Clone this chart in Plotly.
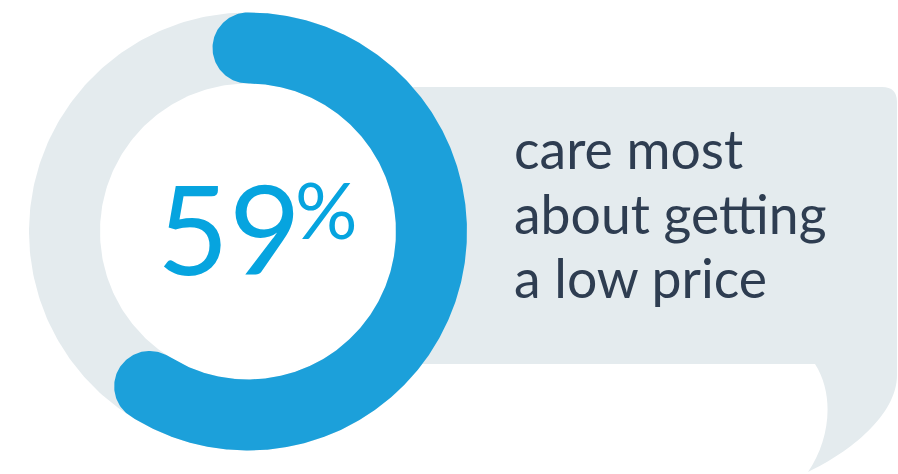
import numpy as np
import plotly.graph_objects as go

# ---- data ----
value = [59]            # percent shown by the blue arc
total = [100]           # full ring
value_label = ["59"]
unit_label = ["%"]
caption_lines = ["care most", "about getting", "a low price"]

# ---- styling / layout constants ----
W, H = 898, 474
CX, CY = 248, 231.5
R_OUT, R_IN = 219, 148
BLUE = "#1ca0da"
BLUE_TEXT = "#06a4df"
GREY = "#e4ebee"
DARK = "#2e3d51"
CAPTION_SIZE = 53.5
CAPTION_TOPS = [114.2, 178.7, 243.2]


def disk(r, n=360):
    t = np.linspace(0, 2 * np.pi, n)
    return CX + r * np.sin(t), CY - r * np.cos(t)


def rounded_arc(frac, n=500, m=80):
    th1 = 2 * np.pi * frac
    rm = (R_OUT + R_IN) / 2
    w = (R_OUT - R_IN) / 2
    th = np.linspace(0, th1, n)
    xs, ys = [], []
    # outer edge
    xs += list(CX + R_OUT * np.sin(th)); ys += list(CY - R_OUT * np.cos(th))
    # end cap
    phi = np.linspace(0, np.pi, m)
    c = (CX + rm * np.sin(th1), CY - rm * np.cos(th1))
    rad = (np.sin(th1), -np.cos(th1)); tan = (np.cos(th1), np.sin(th1))
    xs += list(c[0] + w * (np.cos(phi) * rad[0] + np.sin(phi) * tan[0]))
    ys += list(c[1] + w * (np.cos(phi) * rad[1] + np.sin(phi) * tan[1]))
    # inner edge (back)
    thr = th[::-1]
    xs += list(CX + R_IN * np.sin(thr)); ys += list(CY - R_IN * np.cos(thr))
    # start cap
    c0 = (CX, CY - rm); rad0 = (0.0, -1.0); tan0 = (1.0, 0.0)
    xs += list(c0[0] + w * (-np.cos(phi) * rad0[0] - np.sin(phi) * tan0[0]))
    ys += list(c0[1] + w * (-np.cos(phi) * rad0[1] - np.sin(phi) * tan0[1]))
    return xs, ys


fig = go.Figure()

# full grey ring (total)
gx, gy = disk(R_OUT * total[0] / 100)
fig.add_trace(go.Scatter(x=gx, y=gy, mode="lines", fill="toself", fillcolor=GREY,
                         line=dict(width=0, color=GREY), hoverinfo="skip", showlegend=False))
wx, wy = disk(R_IN)
fig.add_trace(go.Scatter(x=wx, y=wy, mode="lines", fill="toself", fillcolor="white",
                         line=dict(width=0, color="white"), hoverinfo="skip", showlegend=False))
# blue value arc
bx, by = rounded_arc(value[0] / total[0])
fig.add_trace(go.Scatter(x=bx, y=by, mode="lines", fill="toself", fillcolor=BLUE,
                         line=dict(width=0, color=BLUE), hoverinfo="skip", showlegend=False))

# speech bubble
bubble = ("M 400,87 L 882,87 Q 897,87 897,102 L 897,375 "
          "C 897,415 850,452 808,472 C 830,440 835,395 815,364 L 400,364 Z")
fig.add_shape(type="path", path=bubble, xref="x", yref="y", layer="below",
              fillcolor=GREY, line=dict(width=0))

fig.add_annotation(x=229, y=151, xref="x", yref="y", text=value_label[0],
                   showarrow=False, xanchor="center", yanchor="top",
                   font=dict(family="Lato", size=124, weight=400, color=BLUE_TEXT))
fig.add_annotation(x=293, y=160, xref="x", yref="y", text=unit_label[0],
                   showarrow=False, xanchor="left", yanchor="top",
                   font=dict(family="Lato", size=78, weight=400, color=BLUE_TEXT))
for line, top in zip(caption_lines, CAPTION_TOPS):
    fig.add_annotation(x=512, y=top, xref="x", yref="y", text=line,
                       showarrow=False, xanchor="left", yanchor="top", align="left",
                       font=dict(family="Lato", size=CAPTION_SIZE, color=DARK))

fig.update_layout(
    width=W, height=H, margin=dict(l=0, r=0, t=0, b=0),
    paper_bgcolor="white", plot_bgcolor="white",
    xaxis=dict(range=[0, W], visible=False, fixedrange=True),
    yaxis=dict(range=[H, 0], visible=False, fixedrange=True),
    showlegend=False,
)

fig.write_html("out.html", config={"displayModeBar": False})
